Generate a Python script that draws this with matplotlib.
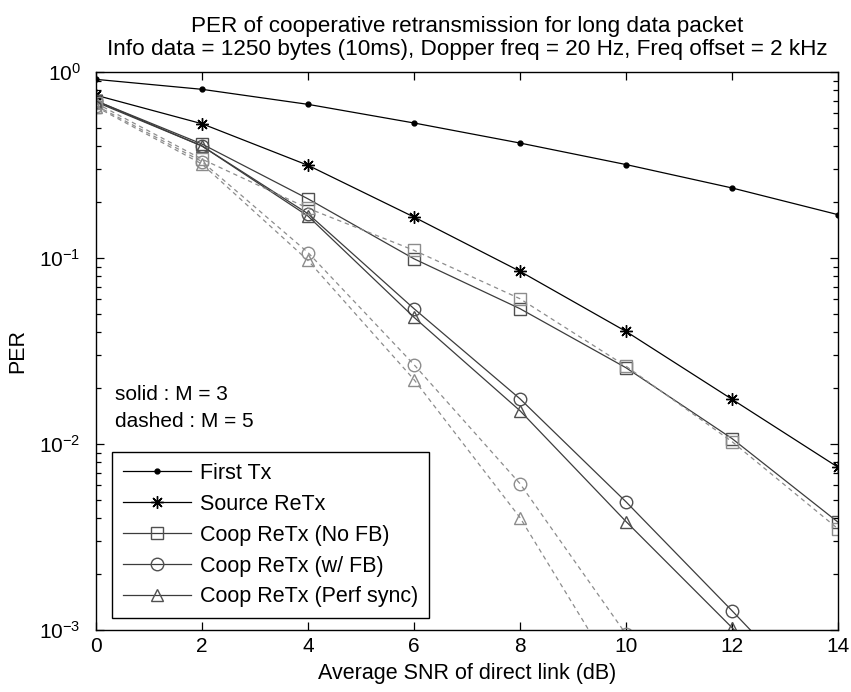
import matplotlib
matplotlib.use("Agg")
import matplotlib.pyplot as plt
from matplotlib.ticker import LogLocator, NullFormatter

plt.rcParams['font.family'] = ['Liberation Sans', 'DejaVu Sans']

snr = [0, 2, 4, 6, 8, 10, 12, 14]

first_tx = [0.913, 0.807, 0.670, 0.532, 0.415, 0.318, 0.238, 0.171]
source_retx = [0.75, 0.527, 0.315, 0.166, 0.0848, 0.0403, 0.0174, 0.0075]

# solid: M = 3
nofb_m3 = [0.70, 0.41, 0.208, 0.099, 0.0534, 0.0257, 0.0107, 0.0038]
wfb_m3 = [0.70, 0.40, 0.173, 0.0534, 0.0175, 0.00489, 0.00127, 0.00032]
perf_m3 = [0.69, 0.40, 0.168, 0.048, 0.0151, 0.00383, 0.00103, 0.00026]

# dashed: M = 5
nofb_m5 = [0.68, 0.34, 0.185, 0.11, 0.0604, 0.0262, 0.0103, 0.0035]
wfb_m5 = [0.66, 0.33, 0.107, 0.0267, 0.00612, 0.00095, 0.00012, 0.00002]
perf_m5 = [0.65, 0.32, 0.097, 0.0222, 0.00402, 0.00047, 0.00005, 0.000006]

legend_labels = ['First Tx', 'Source ReTx', 'Coop ReTx (No FB)',
                 'Coop ReTx (w/ FB)', 'Coop ReTx (Perf sync)']

fig = plt.figure(figsize=(8.51, 6.92), dpi=100)
ax = fig.add_axes([96 / 851, 1 - 630 / 692, 742 / 851, 558 / 692])

black = 'black'
gray_solid = '#3c3c3c'
gray_mk = '#505050'
gray_dash = '#8c8c8c'
lw = 0.9
ms = 9
dash = (0, (3.5, 3))

ax.plot(snr, first_tx, color=black, lw=lw, marker='.', ms=7, label=legend_labels[0])
ax.plot(snr, source_retx, color=black, lw=lw, marker=(8, 2, 0), ms=9,
        mew=1.0, label=legend_labels[1])
ax.plot(snr, nofb_m3, color=gray_solid, lw=lw, marker='s', ms=ms, mfc='none',
        mec=gray_mk, label=legend_labels[2])
ax.plot(snr, wfb_m3, color=gray_solid, lw=lw, marker='o', ms=ms, mfc='none',
        mec=gray_mk, label=legend_labels[3])
ax.plot(snr, perf_m3, color=gray_solid, lw=lw, marker='^', ms=ms, mfc='none',
        mec=gray_mk, label=legend_labels[4])

ax.plot(snr, nofb_m5, color=gray_dash, lw=lw, ls=dash, marker='s', ms=ms,
        mfc='none', mec=gray_dash)
ax.plot(snr, wfb_m5, color=gray_dash, lw=lw, ls=dash, marker='o', ms=ms,
        mfc='none', mec=gray_dash)
ax.plot(snr, perf_m5, color=gray_dash, lw=lw, ls=dash, marker='^', ms=ms,
        mfc='none', mec=gray_dash)

ax.set_yscale('log')
ax.set_xlim(0, 14)
ax.set_ylim(1e-3, 1)
ax.set_xticks(snr)
ax.yaxis.set_major_locator(LogLocator(base=10, numticks=10))
ax.yaxis.set_minor_locator(LogLocator(base=10, subs=range(2, 10), numticks=10))
ax.yaxis.set_minor_formatter(NullFormatter())
ax.tick_params(which='both', direction='in', top=True, right=True, labelsize=15,
               width=0.9)
ax.tick_params(which='major', length=6)
ax.tick_params(axis='x', which='major', pad=5)
ax.tick_params(axis='y', which='major', pad=11)
ax.tick_params(which='minor', length=3.5)
for s in ax.spines.values():
    s.set_linewidth(1.0)

ax.set_title('PER of cooperative retransmission for long data packet\n'
             'Info data = 1250 bytes (10ms), Dopper freq = 20 Hz, Freq offset = 2 kHz',
             fontsize=16.2, pad=12, linespacing=1.12)
ax.set_xlabel('Average SNR of direct link (dB)', fontsize=15.5, labelpad=5)
ax.set_ylabel('PER', fontsize=15.5, labelpad=8)

ax.text(0.025, 0.422, 'solid : M = 3', transform=ax.transAxes, fontsize=15,
        va='center', ha='left')
ax.text(0.025, 0.374, 'dashed : M = 5', transform=ax.transAxes, fontsize=15,
        va='center', ha='left')

leg = ax.legend(loc='lower left', bbox_to_anchor=(0.0216, 0.0215), fontsize=15.5,
                fancybox=False, edgecolor='black', framealpha=1,
                handlelength=3.2, borderpad=0.49, labelspacing=0.46,
                handletextpad=0.4, borderaxespad=0)
leg.get_frame().set_linewidth(1.0)

fig.savefig('out.png', dpi=100)
